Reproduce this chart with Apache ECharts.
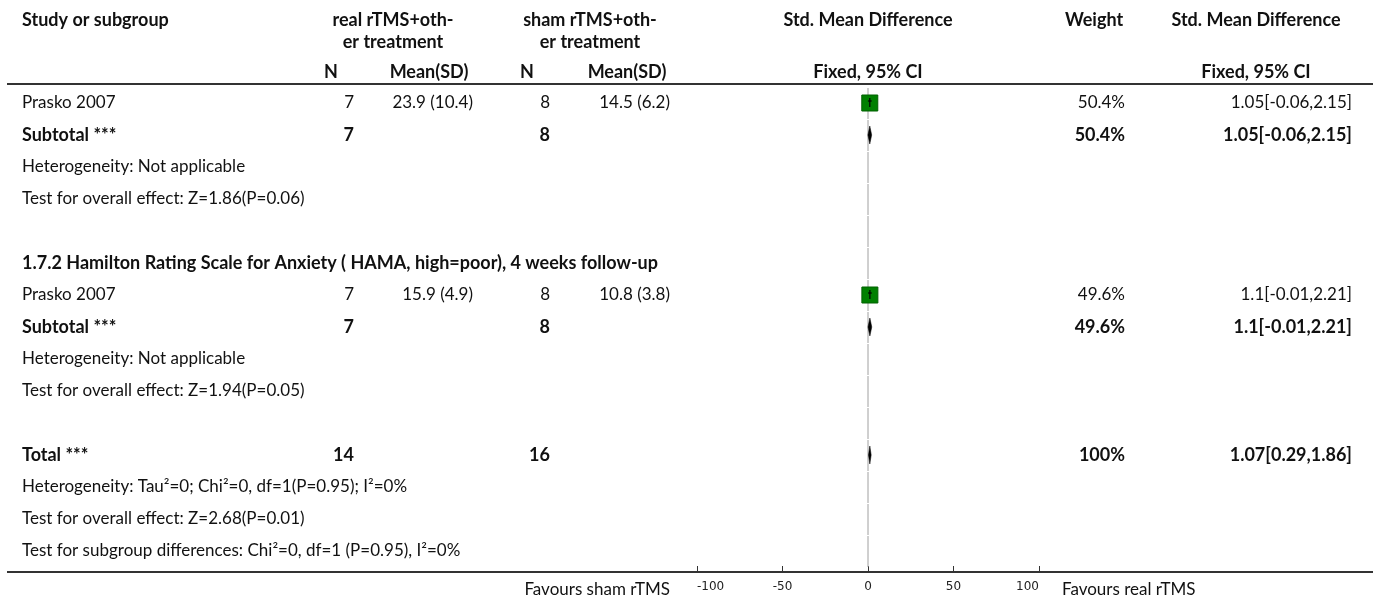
<!DOCTYPE html>
<html><head><meta charset="utf-8">
<script src="https://cdn.jsdelivr.net/npm/echarts@6/dist/echarts.min.js"></script>
<style>html,body{margin:0;padding:0;background:#fff}#c{width:1373px;height:601px}</style>
</head><body><div id="c"></div>
<script>
// ---------- data ----------
const rowText = [
  'Prasko 2007',
  'Subtotal ***',
  'Heterogeneity: Not applicable',
  'Test for overall effect: Z=1.86(P=0.06)',
  '',
  '1.7.2 Hamilton Rating Scale for Anxiety ( HAMA, high=poor), 4 weeks follow-up',
  'Prasko 2007',
  'Subtotal ***',
  'Heterogeneity: Not applicable',
  'Test for overall effect: Z=1.94(P=0.05)',
  '',
  'Total ***',
  'Heterogeneity: Tau\u00B2=0; Chi\u00B2=0, df=1(P=0.95); I\u00B2=0%',
  'Test for overall effect: Z=2.68(P=0.01)',
  'Test for subgroup differences: Chi\u00B2=0, df=1 (P=0.95), I\u00B2=0%'
];
const rowKind = ['study','sub','note','note','blank','head','study','sub','note','note','blank','sub','note','note','note'];
const realN    = ['7','7','','','','','7','7','','','','14','','',''];
const realMean = ['23.9 (10.4)','','','','','','15.9 (4.9)','','','','','','','',''];
const shamN    = ['8','8','','','','','8','8','','','','16','','',''];
const shamMean = ['14.5 (6.2)','','','','','','10.8 (3.8)','','','','','','','',''];
const weightText = ['50.4%','50.4%','','','','','49.6%','49.6%','','','','100%','','',''];
const ciText = ['1.05[-0.06,2.15]','1.05[-0.06,2.15]','','','','','1.1[-0.01,2.21]','1.1[-0.01,2.21]','','','','1.07[0.29,1.86]','','',''];
const est = [1.05, 1.05, null, null, null, null, 1.1, 1.1, null, null, null, 1.07, null, null, null];
const lo  = [-0.06, -0.06, null, null, null, null, -0.01, -0.01, null, null, null, 0.29, null, null, null];
const hi  = [2.15, 2.15, null, null, null, null, 2.21, 2.21, null, null, null, 1.86, null, null, null];
const xTicks = [-100, -50, 0, 50, 100];
const favLeft = 'Favours sham rTMS';
const favRight = 'Favours real rTMS';

// ---------- rendering ----------
const FONT = 'Lato';
const FS = 17;
const FSB = 18;
const TXT = '#111';
const chart = echarts.init(document.getElementById('c'));

function t(x, y, s, align, bold, size, fam) {
  return {type:'text', x:x, y:y, silent:true,
    style:{text:s, align:align, verticalAlign:'middle',
      font:(bold?'bold ':'')+(size||(bold?FSB:FS))+'px '+(fam||FONT), fill:TXT}};
}

const headerGraphics = [
  t(22, 20, 'Study or subgroup', 'left', true),
  t(393, 20, 'real rTMS+oth-', 'center', true),
  t(393, 42, 'er treatment', 'center', true),
  t(590, 20, 'sham rTMS+oth-', 'center', true),
  t(590, 42, 'er treatment', 'center', true),
  t(331, 72, 'N', 'center', true),
  t(429, 72, 'Mean(SD)', 'center', true),
  t(527, 72, 'N', 'center', true),
  t(627, 72, 'Mean(SD)', 'center', true),
  t(868, 20, 'Std. Mean Difference', 'center', true),
  t(868, 72, 'Fixed, 95% CI', 'center', true),
  t(1094, 20, 'Weight', 'center', true),
  t(1256, 20, 'Std. Mean Difference', 'center', true),
  t(1256, 72, 'Fixed, 95% CI', 'center', true),
  {type:'line', silent:true, shape:{x1:7, y1:84, x2:1373, y2:84}, style:{stroke:'#333', lineWidth:2}},
  {type:'line', silent:true, shape:{x1:7, y1:572, x2:1373, y2:572}, style:{stroke:'#333', lineWidth:2}},
  t(670, 590, favLeft, 'right', false),
  t(1062, 590, favRight, 'left', false)
];

const tableData = rowText.map((_, i) => [0, i]);
const markData = [];
rowKind.forEach((k, i) => { if (est[i] != null) markData.push([est[i], lo[i], hi[i], i, k === 'study' ? 1 : 0]); });

chart.setOption({
  animation:false,
  grid:{left:697, right:334, top:88, bottom:29},
  xAxis:{type:'value', position:'bottom', min:-100, max:100, interval:50,
    axisLine:{show:true, onZero:false, lineStyle:{color:'#333', width:2}},
    axisTick:{show:true, inside:true, length:6, lineStyle:{color:'#333', width:1}},
    axisLabel:{fontFamily:'DejaVu Sans', fontSize:12, color:'#222', margin:9,
      alignMinLabel:'left', alignMaxLabel:'right',
      formatter:(v) => xTicks.indexOf(v) >= 0 ? String(v) : ''},
    splitLine:{show:false}},
  yAxis:{type:'value', inverse:true, min:-0.46875, max:14.65625, show:false},
  graphic:headerGraphics,
  series:[
    {type:'custom', name:'table', data:tableData, clip:false, silent:true,
      renderItem:function(params, api){
        const k = api.value(1);
        const y = api.coord([0, k])[1];
        const yTop = api.coord([0, k - 0.5])[1];
        const yBot = api.coord([0, k + 0.5])[1];
        const x0 = api.coord([0, k])[0];
        const kind = rowKind[k];
        const bold = (kind === 'sub' || kind === 'head');
        const ch = [
          {type:'line', shape:{x1:x0, y1:yTop + 1, x2:x0, y2:yBot}, style:{stroke:'#a0a0a0', lineWidth:1}}
        ];
        if (rowText[k]) ch.push(t(22, y, rowText[k], 'left', bold));
        if (realN[k]) ch.push(t(354, y, realN[k], 'right', bold));
        if (realMean[k]) ch.push(t(473, y, realMean[k], 'right', bold));
        if (shamN[k]) ch.push(t(550, y, shamN[k], 'right', bold));
        if (shamMean[k]) ch.push(t(670, y, shamMean[k], 'right', bold));
        if (weightText[k]) ch.push(t(1125, y, weightText[k], 'right', bold));
        if (ciText[k]) ch.push(t(1352, y, ciText[k], 'right', bold));
        return {type:'group', children:ch};
      }},
    {type:'custom', name:'marks', data:markData, clip:false, silent:true, z:5,
      renderItem:function(params, api){
        const e = api.value(0), l = api.value(1), h = api.value(2), k = api.value(3), isStudy = api.value(4);
        const c = api.coord([e, k]);
        const pl = api.coord([l, k]), ph = api.coord([h, k]);
        if (isStudy) {
          return {type:'group', children:[
            {type:'rect', shape:{x:c[0]-8, y:c[1]-8, width:16, height:16}, style:{fill:'#008000', stroke:'#006000', lineWidth:1}},
            {type:'line', shape:{x1:pl[0], y1:c[1]-2, x2:ph[0], y2:c[1]-2}, style:{stroke:'#000', lineWidth:1.2}},
            {type:'line', shape:{x1:c[0], y1:c[1]-5, x2:c[0], y2:c[1]+4}, style:{stroke:'#000', lineWidth:1.2}}
          ]};
        }
        return {type:'polygon', shape:{points:[[pl[0], c[1]], [c[0], c[1]-9], [ph[0], c[1]], [c[0], c[1]+9]]},
          style:{fill:'#000', stroke:'#000', lineWidth:0.5}};
      }}
  ]
});
</script></body></html>
